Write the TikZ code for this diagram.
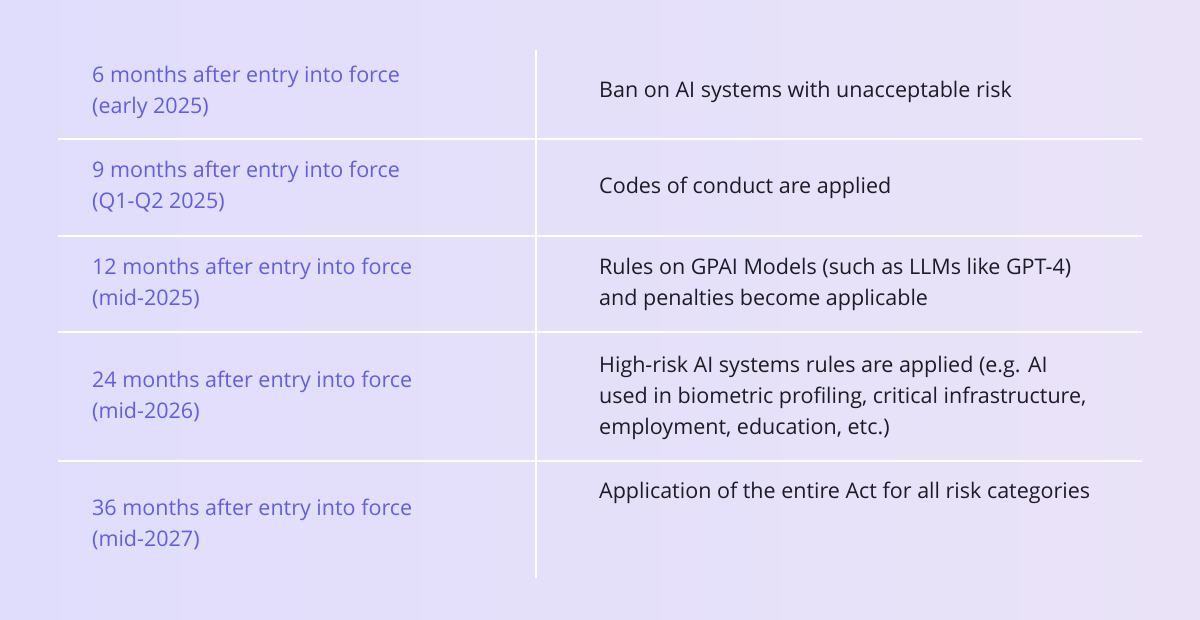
\documentclass[tikz,border=0pt]{standalone}
\usepackage{fontspec}
\setmainfont{Open Sans}
\definecolor{bgL}{RGB}{224,221,252}
\definecolor{bgR}{RGB}{234,227,248}
\definecolor{lefttxt}{RGB}{98,94,222}
\definecolor{righttxt}{RGB}{28,28,38}
\begin{document}
\begin{tikzpicture}[x=1pt,y=-1pt,
  lt/.style={anchor=base west,align=left,font=\fontsize{21.5}{31}\selectfont,text=lefttxt,inner sep=0},
  rt/.style={anchor=base west,align=left,font=\fontsize{21.5}{31}\selectfont,text=righttxt,inner sep=0},
  sep/.style={draw=white,line width=2pt}]
\shade[left color=bgL,right color=bgR] (0,0) rectangle (1200,620);
\useasboundingbox (0,0) rectangle (1200,620);
\draw[sep] (536,50) -- (536,578);
\foreach \y in {139,236,332,461} \draw[sep] (58,\y) -- (1142,\y);
\node[lt] (l1) at (92,114) {6 months after entry into force\\(early 2025)};
\node[rt] (r1) at (599,98) {Ban on AI systems with unacceptable risk};
\node[lt] (l2) at (92,209) {9 months after entry into force\\(Q1-Q2 2025)};
\node[rt] (r2) at (599,194) {Codes of conduct are applied};
\node[lt] (l3) at (92,306) {12 months after entry into force\\(mid-2025)};
\node[rt] (r3) at (599,306) {Rules on GPAI Models (such as LLMs like GPT-4)\\and penalties become applicable};
\node[lt] (l4) at (92,418) {24 months after entry into force\\(mid-2026)};
\node[rt] (r4) at (599,434) {High-risk AI systems rules are applied (e.g. AI\\used in biometric profiling, critical infrastructure,\\employment, education, etc.)};
\node[lt] (l5) at (92,546) {36 months after entry into force\\(mid-2027)};
\node[rt] (r5) at (599,498) {Application of the entire Act for all risk categories};
\end{tikzpicture}
\end{document}
